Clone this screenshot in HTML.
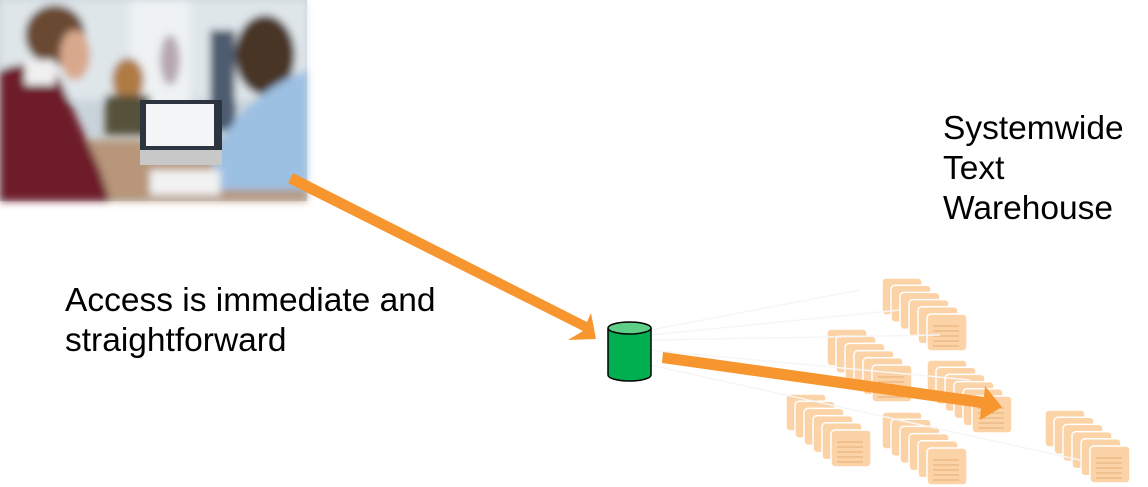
<!DOCTYPE html>
<html><head><meta charset="utf-8"><style>
html,body{margin:0;padding:0;background:#fff;width:1148px;height:487px;overflow:hidden;position:relative}
.t{position:absolute;font-family:"Liberation Sans",sans-serif;font-size:33.5px;color:#000;line-height:40px}
</style></head><body>
<svg id="s" width="1148" height="487" style="position:absolute;left:0;top:0">
<defs><filter id="b"><feGaussianBlur stdDeviation="4"/></filter></defs>
<g>
<rect x="0" y="0" width="307" height="201" fill="#c9d3da"/>
<g filter="url(#b)">
<rect x="0" y="0" width="307" height="100" fill="#dfe6ea"/>
<rect x="130" y="0" width="60" height="120" fill="#eef2f3"/>
<rect x="0" y="140" width="307" height="61" fill="#b7967a"/>
<ellipse cx="128" cy="80" rx="16" ry="22" fill="#b07a45"/>
<rect x="105" y="95" width="45" height="40" fill="#56513a"/>
<ellipse cx="170" cy="60" rx="10" ry="25" fill="#b7a8b0"/>
<rect x="210" y="30" width="25" height="100" fill="#4d5c70"/>
<ellipse cx="265" cy="55" rx="30" ry="40" fill="#4a3425"/>
<path d="M215 150 Q250 90 307 70 L307 190 L210 190 Z" fill="#9cc0e2"/>
<ellipse cx="55" cy="35" rx="30" ry="30" fill="#6b4a30"/>
<path d="M0 70 Q40 55 60 80 L100 170 L110 201 L0 201 Z" fill="#6e1e2c"/>
<rect x="25" y="60" width="30" height="25" fill="#f0f0f0"/>
<ellipse cx="75" cy="55" rx="15" ry="25" fill="#d8a88c"/>
<rect x="150" y="170" width="70" height="25" fill="#f2f2f2"/>
</g>
<rect x="140" y="100" width="82" height="50" fill="#2c3440"/>
<rect x="146" y="104" width="68" height="42" fill="#f3f5f7"/>
<rect x="140" y="150" width="82" height="15" fill="#c8c8c8"/>
</g>
<g id="cards"></g>
<g stroke="#f6f6f6" stroke-width="1.5" fill="none">
<line x1="650" y1="330" x2="860" y2="290"/><line x1="650" y1="335" x2="900" y2="310"/>
<line x1="650" y1="340" x2="940" y2="335"/><line x1="650" y1="350" x2="970" y2="380"/>
<line x1="650" y1="365" x2="1080" y2="460"/>
</g>
<polygon points="293,173 587,322 591,313 596,339 568,340 583,331 288,183" fill="#f7962f"/>
<polygon points="663,352 984,397 985,386 1002,407 980,420 981,408 662,363" fill="#f7962f"/>
<path d="M608 328 L608 375 A21.5 6 0 0 0 651 375 L651 328" fill="#00b050" stroke="#000" stroke-width="1.5"/>
<ellipse cx="629.5" cy="328" rx="21.5" ry="6" fill="#5fcf88" stroke="#000" stroke-width="1.5"/>
</svg>
<div class="t" style="left:65px;top:281px">Access is immediate and<br>straightforward</div>
<div class="t" style="left:943px;top:109px">Systemwide<br>Text<br>Warehouse</div>
<script>
var g=document.getElementById('cards'),h='';
var st=[[882,278],[827,329],[927,360],[786,394],[882,412],[1045,410]];
st.forEach(function(p){for(var i=0;i<6;i++){var x=p[0]+i*9,y=p[1]+i*7.2;
h+='<rect x="'+x+'" y="'+y+'" width="40" height="37" rx="4" fill="#fcd3a6" stroke="#fff" stroke-width="1.5"/>';
if(i==5){for(var k=0;k<5;k++)h+='<line x1="'+(x+6)+'" y1="'+(y+12+k*5)+'" x2="'+(x+32)+'" y2="'+(y+12+k*5)+'" stroke="#e6ad78" stroke-width="1"/>';}}});
g.innerHTML=h;
</script>
</body></html>
